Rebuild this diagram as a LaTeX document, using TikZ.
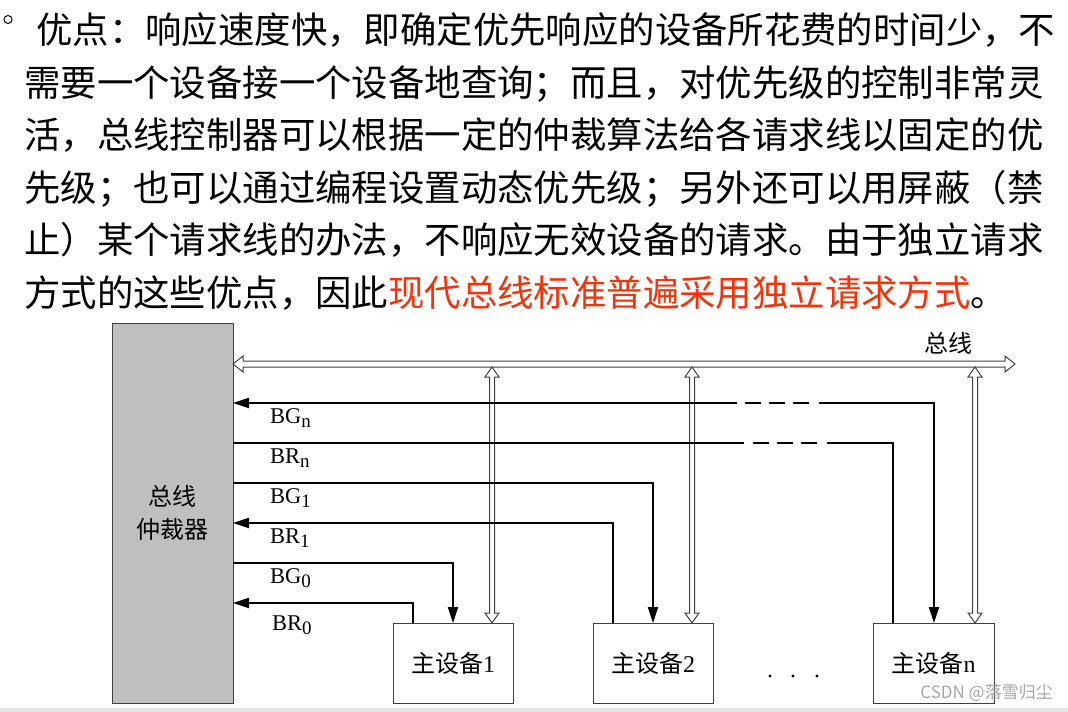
\documentclass[tikz,border=0pt]{standalone}
\usepackage{fontspec}
\setmainfont{Liberation Serif}
\newfontfamily\cjk{Noto Sans CJK SC}
\usetikzlibrary{arrows.meta}
\definecolor{hl}{RGB}{245,50,10}
\definecolor{boxgray}{RGB}{191,191,191}
\definecolor{edge}{RGB}{64,64,64}
\newcommand\subl[1]{\raisebox{-4pt}{\fontsize{19}{19}\selectfont #1}}
% hollow horizontal double-headed arrow: x0 x1 y
\newcommand\hbus[3]{\path[hollow] (#1,#3) -- (#1+10,#3-8) -- (#1+10,#3-3) -- (#2-10,#3-3) -- (#2-10,#3-8) -- (#2,#3) -- (#2-10,#3+8) -- (#2-10,#3+3) -- (#1+10,#3+3) -- (#1+10,#3+8) -- cycle;}
% hollow vertical double-headed arrow: x y0 y1
\newcommand\vbus[3]{\path[hollow] (#1,#2) -- (#1+7,#2+10) -- (#1+2.5,#2+10) -- (#1+2.5,#3-10) -- (#1+7,#3-10) -- (#1,#3) -- (#1-7,#3-10) -- (#1-2.5,#3-10) -- (#1-2.5,#2+10) -- (#1-7,#2+10) -- cycle;}
\begin{document}
\begin{tikzpicture}[x=1pt,y=-1pt,
  para/.style={anchor=base west, inner sep=0, font=\cjk\fontsize{36.4}{40}\selectfont},
  box/.style={draw=edge, line width=1pt, inner sep=0},
  lab/.style={anchor=base west, inner sep=0, font=\fontsize{22.5}{22.5}\selectfont},
  cjklab/.style={font=\cjk\fontsize{24}{33}\selectfont},
  sig/.style={line width=2pt, black},
  tip/.style={-{Triangle[length=16pt,width=10pt]}},
  hollow/.style={draw=edge, line width=1pt, fill=white, line join=miter},
  gapline/.style={white, line width=4pt},
  dashseg/.style={sig, dash pattern=on 16pt off 8pt},
]
\useasboundingbox (0,0) rectangle (1068,712);

% ---------- paragraph ----------
\draw[line width=1pt] (8,19.5) circle (4pt);
\node[para] (t1) at (36,43) {优点：响应速度快，即确定优先响应的设备所花费的时间少，不};
\node[para] (t2) at (24,96) {需要一个设备接一个设备地查询；而且，对优先级的控制非常灵};
\node[para] (t3) at (24,148) {活，总线控制器可以根据一定的仲裁算法给各请求线以固定的优};
\node[para] (t4) at (24,201) {先级；也可以通过编程设置动态优先级；另外还可以用屏蔽（禁};
\node[para] (t5) at (24,253) {止）某个请求线的办法，不响应无效设备的请求。由于独立请求};
\node[para] (t6) at (24,306) {方式的这些优点，因此\textcolor{hl}{现代总线标准普遍采用独立请求方式}。};

% ---------- boxes ----------
\node[box, fill=boxgray, minimum width=121pt, minimum height=380pt, align=center, cjklab] (arb) at (172.5,513) {总线\\仲裁器};
\node[box, minimum width=120pt, minimum height=80pt, cjklab] (d1) at (453,663) {主设备{\rmfamily 1}};
\node[box, minimum width=120pt, minimum height=80pt, cjklab] (d2) at (653,663) {主设备{\rmfamily 2}};
\node[box, minimum width=121pt, minimum height=80pt, cjklab] (dn) at (933.5,663) {主设备{\rmfamily n}};

% ---------- bus ----------
\hbus{233}{1015}{364}
\vbus{492}{367}{623}
\vbus{692}{367}{623}
\vbus{975}{367}{623}
\node[cjklab, inner sep=0] (buslab) at (948,343) {总线};

% ---------- ports ----------
\coordinate (aGn) at (233,403);
\coordinate (aRn) at (233,443);
\coordinate (aG1) at (233,483);
\coordinate (aR1) at (233,523);
\coordinate (aG0) at (233,563);
\coordinate (aR0) at (233,603);
\coordinate (nR) at (893,623);
\coordinate (nG) at (934,623);
\coordinate (twoR) at (613,623);
\coordinate (twoG) at (653,623);
\coordinate (oneR) at (413,623);
\coordinate (oneG) at (453,623);

% ---------- signal lines ----------
\draw[sig, {Triangle[length=16pt,width=10pt]}-{Triangle[length=16pt,width=10pt]}] (nG) |- (aGn);
\draw[sig] (nR) |- (aRn);
\draw[sig, tip] (aG1) -| (twoG);
\draw[sig, tip] (twoR) |- (aR1);
\draw[sig, tip] (aG0) -| (oneG);
\draw[sig, tip] (oneR) |- (aR0);

% dashed sections
\draw[gapline] (737,403) -- (819,403);
\draw[dashseg] (745,403) -- (811,403);
\draw[gapline] (744,443) -- (827,443);
\draw[dashseg] (753,443) -- (819,443);

% ---------- signal labels ----------
\node[lab] (lGn) at (270,423) {BG\subl{n}};
\node[lab] (lRn) at (270,463) {BR\subl{n}};
\node[lab] (lG1) at (270,503) {BG\subl{1}};
\node[lab] (lR1) at (270,543) {BR\subl{1}};
\node[lab] (lG0) at (270,583) {BG\subl{0}};
\node[lab] (lR0) at (272,630) {BR\subl{0}};

% ---------- dots ----------
\fill (770,676) circle (1.6pt);
\fill (793,676) circle (1.6pt);
\fill (817,676) circle (1.6pt);

% ---------- watermark & bottom strip ----------
\node[font=\cjk\fontsize{17}{17}\selectfont, text=gray!70, anchor=east, inner sep=0] (wm) at (1053,693) {CSDN @落雪归尘};
\fill[gray!20] (0,708) rectangle (1068,712);
\end{tikzpicture}
\end{document}
